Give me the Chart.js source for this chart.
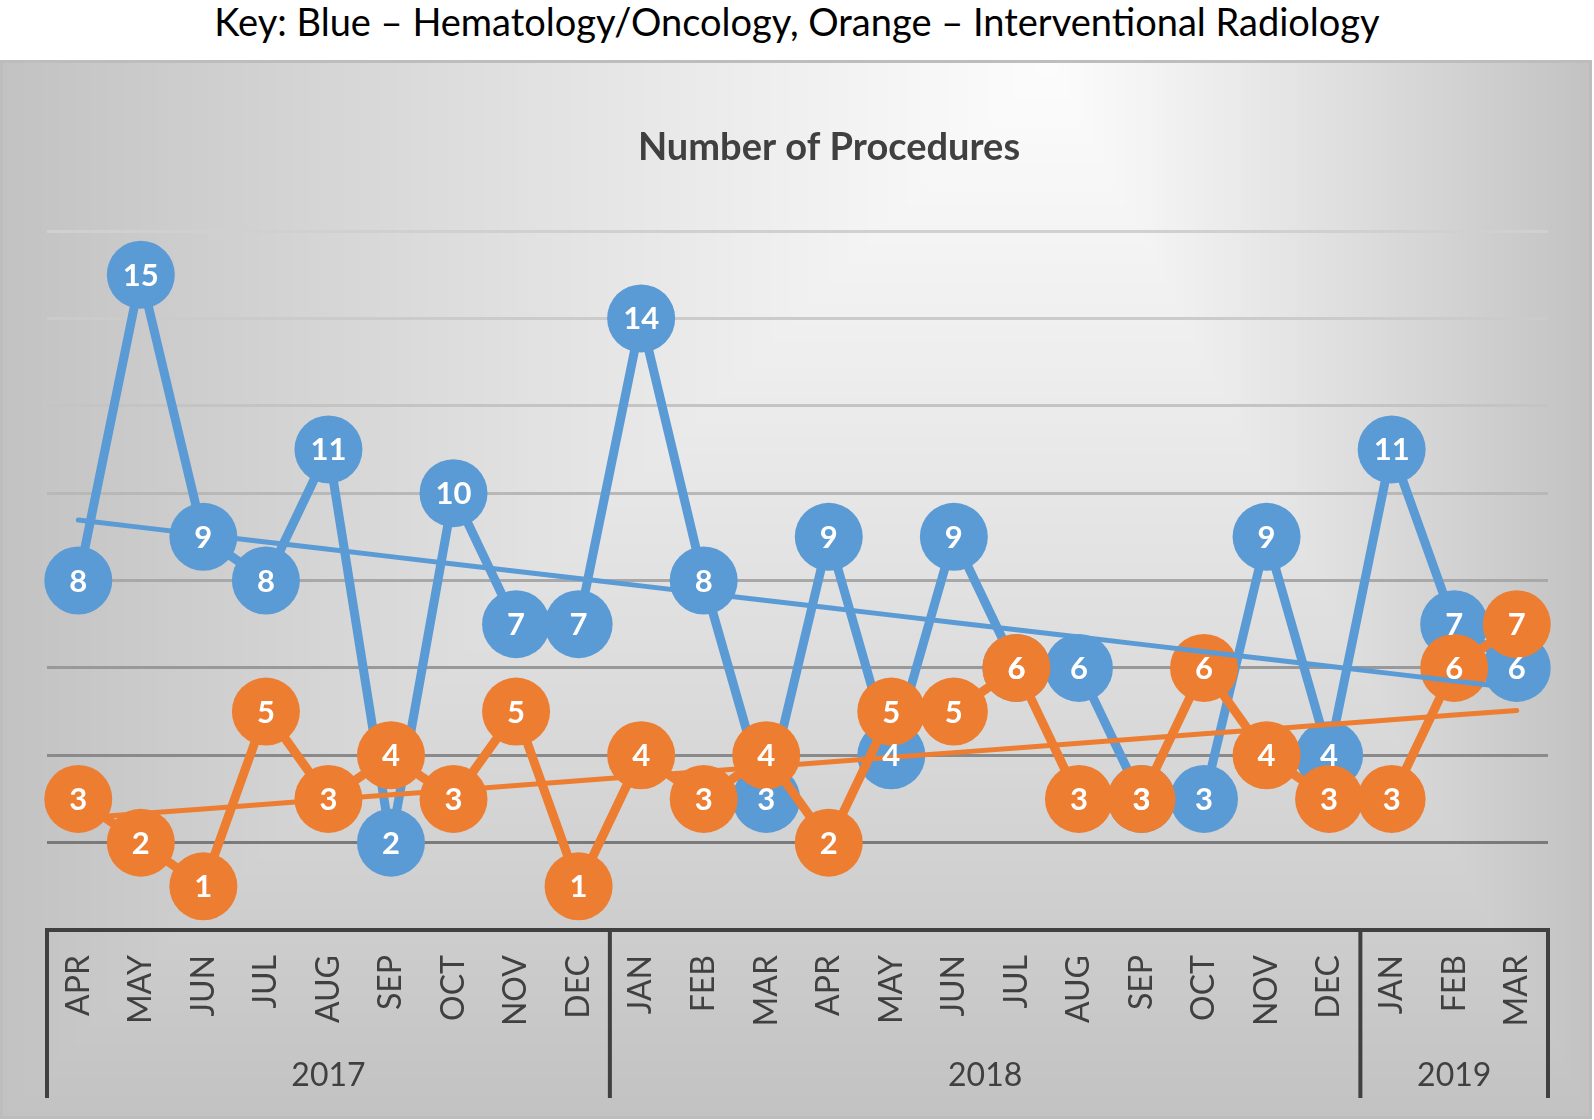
<!DOCTYPE html>
<html>
<head>
<meta charset="utf-8">
<script src="https://cdn.jsdelivr.net/npm/chart.js@4.4.0/dist/chart.umd.min.js"></script>
<style>
body{margin:0;background:#fff;width:1594px;height:1120px;overflow:hidden;font-family:Lato,sans-serif}
#key{position:absolute;left:0;top:0;width:1594px;height:60px;line-height:42px;text-align:center;font-size:38px;color:#000}
#wrap{position:absolute;left:0;top:60px;width:1592px;height:1059px}
</style>
</head>
<body>
<div id="key">Key: Blue – Hematology/Oncology, Orange – Interventional Radiology</div>
<div id="wrap"><canvas id="mychart"></canvas></div>
<script>
var months=["APR","MAY","JUN","JUL","AUG","SEP","OCT","NOV","DEC",
    "JAN","FEB","MAR","APR","MAY","JUN","JUL","AUG","SEP","OCT","NOV","DEC",
    "JAN","FEB","MAR"]
var years=["2017","2018","2019"]
var yearSpans=[9,12,3]
var hemOnc=[8,15,9,8,11,2,10,7,7,14,8,3,9,4,9,6,6,3,3,9,4,11,7,6]
var intRad=[3,2,1,5,3,4,3,5,1,4,3,4,2,5,5,6,3,3,6,4,3,3,6,7]
var yMax=16
var yStep=2

var blue="#5B9BD5"
var orange="#ED7D31"
var dark="#404040"
var gridShades={2:"#7a7a7a",4:"#8a8a8a",6:"#999999",8:"#a8a8a8",10:"#b8b8b8",12:"#c4c4c4",14:"#cbcbcb",16:"#d0d0d0"}

// least squares line, like the excel trendline
function trend(vals){
    var n=vals.length,sx=0,sy=0,sxy=0,sxx=0
    for(var i=0;i<n;i++){sx+=i;sy+=vals[i];sxy+=i*vals[i];sxx+=i*i}
    var b=(n*sxy-sx*sy)/(n*sxx-sx*sx)
    var a=(sy-b*sx)/n
    return vals.map(function(v,i){return a+b*i})
}

var bgImg=null
function makeBg(w,h){
    var c=document.createElement("canvas")
    c.width=w;c.height=h
    var g=c.getContext("2d")
    var img=g.createImageData(w,h),d=img.data
    var fx=1050
    for(var y=0;y<h;y++){
        var ty=y/h
        for(var x=0;x<w;x++){
            var tx=x<fx?(fx-x)/fx:(x-fx)/(w-fx)
            var t=Math.max(tx,ty)
            var v=Math.round(252-58*Math.pow(t,1.1))
            var k=(y*w+x)*4
            d[k]=v;d[k+1]=v;d[k+2]=v;d[k+3]=255
        }
    }
    g.putImageData(img,0,0)
    return c
}

var framePlugin={
    id:"frame",
    beforeDraw:function(chart){
        var ctx=chart.ctx,w=chart.width,h=chart.height
        if(!bgImg||bgImg.width!==w||bgImg.height!==h) bgImg=makeBg(w,h)
        ctx.save()
        ctx.drawImage(bgImg,0,0)
        ctx.strokeStyle="#bdbdbd"
        ctx.lineWidth=3
        ctx.strokeRect(1.5,1.5,w-3,h-3)
        ctx.fillStyle=dark
        ctx.font="bold 38px Lato"
        ctx.textAlign="center"
        ctx.textBaseline="middle"
        ctx.fillText("Number of Procedures",829,88)
        ctx.restore()
    },
    afterDraw:function(chart){
        var ctx=chart.ctx,xs=chart.scales.x,area=chart.chartArea
        var half=(xs.getPixelForValue(1)-xs.getPixelForValue(0))/2
        var bottom=area.bottom
        ctx.save()
        ctx.fillStyle=dark
        ctx.fillRect(xs.left-2,bottom-2,xs.right-xs.left+4,4)
        var start=0
        var edges=[xs.getPixelForValue(0)-half]
        for(var i=0;i<yearSpans.length;i++){
            start+=yearSpans[i]
            edges.push(xs.getPixelForValue(start-1)+half)
        }
        for(var j=0;j<edges.length;j++){
            ctx.fillRect(edges[j]-2,bottom-2,4,170)
        }
        ctx.font="32px Lato"
        ctx.textAlign="center"
        ctx.textBaseline="middle"
        for(var k=0;k<years.length;k++){
            ctx.fillText(years[k],(edges[k]+edges[k+1])/2,1016)
        }
        ctx.restore()
    },
    afterDatasetsDraw:function(chart){
        var ctx=chart.ctx
        ctx.save()
        ctx.fillStyle="#fff"
        ctx.font="bold 31px Lato"
        ctx.textAlign="center"
        ctx.textBaseline="middle"
        ;[0,1].forEach(function(di){
            var meta=chart.getDatasetMeta(di)
            var vals=chart.data.datasets[di].data
            meta.data.forEach(function(pt,i){
                ctx.fillText(vals[i],pt.x,pt.y+1)
            })
        })
        ctx.restore()
    }
}

var mychart=document.getElementById("mychart").getContext("2d")
var chart=new Chart(mychart,{
    type:"line",
    data:{
        labels:months,
        datasets:[{
            label:"Hematology/Oncology",
            data:hemOnc,
            borderColor:blue,
            backgroundColor:blue,
            borderWidth:9,
            pointRadius:34,
            pointBorderWidth:0,
            pointBackgroundColor:blue,
            tension:0,
            clip:false,
            order:2
        },
        {
            label:"Interventional Radiology",
            data:intRad,
            borderColor:orange,
            backgroundColor:orange,
            borderWidth:9,
            pointRadius:34,
            pointBorderWidth:0,
            pointBackgroundColor:orange,
            tension:0,
            clip:false,
            order:1
        },
        {
            label:"trend blue",
            data:trend(hemOnc),
            borderColor:blue,
            borderWidth:5,
            borderCapStyle:"round",
            pointRadius:0,
            clip:false,
            order:0
        },
        {
            label:"trend orange",
            data:trend(intRad),
            borderColor:orange,
            borderWidth:5,
            borderCapStyle:"round",
            pointRadius:0,
            clip:false,
            order:0
        }]
    },
    options:{
        responsive:true,
        maintainAspectRatio:false,
        animation:false,
        events:[],
        layout:{padding:{left:47,right:44,top:171,bottom:0}},
        plugins:{legend:{display:false},title:{display:false},tooltip:{enabled:false}},
        scales:{
            x:{
                offset:true,
                grid:{display:false},
                border:{display:false},
                ticks:{
                    color:dark,
                    font:{family:"Lato",size:32},
                    minRotation:90,
                    maxRotation:90,
                    autoSkip:false,
                    padding:17
                },
                afterFit:function(s){s.height=189}
            },
            y:{
                min:0,
                max:yMax,
                border:{display:false},
                grid:{
                    drawTicks:false,
                    lineWidth:3,
                    color:function(c){return c.tick.value===0?"rgba(0,0,0,0)":gridShades[c.tick.value]}
                },
                ticks:{display:false,stepSize:yStep},
                afterFit:function(s){s.width=0}
            }
        }
    },
    plugins:[framePlugin]
})
</script>
</body>
</html>
